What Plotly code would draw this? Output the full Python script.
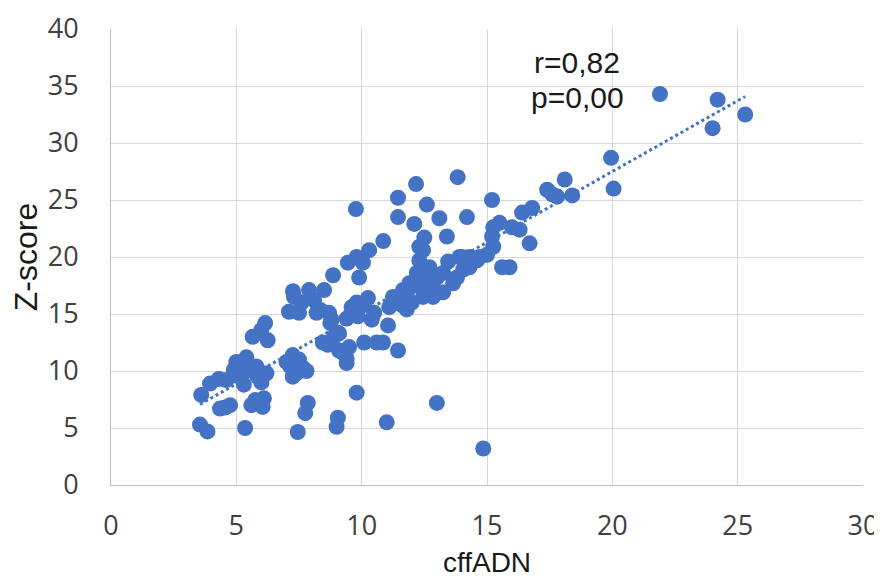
import numpy as np
import plotly.graph_objects as go

# cffADN (x) and Z-score (y) values
cffadn = [
    3.6, 3.95, 4.3, 4.55, 4.35, 4.75, 3.55, 3.85, 5.35, 4.6, 4.9, 5.0, 5.4, 5.8, 5.5, 6.2, 5.85, 5.2, 6.0,
    5.75, 5.6, 6.05, 6.1, 5.65, 6.15, 6.25, 6.0, 4.95, 5.3,
    7.26, 7.1, 7.3, 7.9, 8.5, 7.6, 8.1, 8.35, 7.5, 8.2, 8.7, 8.75, 8.8, 7.25, 7.15, 7.65, 7.25, 7.0, 7.5,
    7.8, 7.4, 8.45, 8.9, 9.0, 9.1, 9.5, 9.4, 8.65, 9.25, 9.4, 9.1,
    7.45, 7.85, 7.75, 9.05, 9.0, 9.8, 11.0, 13.0, 14.85,
    9.6, 10.25, 9.8, 9.6, 10.5, 9.85, 9.4, 10.1, 10.4, 9.45, 10.05, 9.8, 10.3, 10.86, 8.86, 9.9, 10.1, 10.6,
    10.85, 11.45, 9.77,
    11.05, 11.1, 11.25, 11.65, 11.8, 11.8, 11.9, 12.2, 12.3, 12.45, 12.3, 12.5, 12.7, 13.0, 12.6, 12.8, 12.45,
    12.85, 13.25, 13.65, 13.25, 13.45, 13.4, 14.0, 13.8, 14.3, 14.05, 14.7, 14.3, 13.9, 14.6, 12.0, 12.2, 12.6,
    11.6,
    11.45, 12.17, 13.83, 12.6, 13.1, 14.2, 11.45, 12.1,
    15.2, 15.5, 15.25, 16.0, 16.4, 16.8, 16.3, 16.7, 15.2, 15.25, 15.9, 15.6, 17.4, 17.6, 18.1, 18.4, 17.8, 15.0,
    19.95, 20.05, 21.9, 24.2, 24.0, 25.3,
]
zscore = [
    7.9, 8.9, 9.3, 6.8, 6.7, 7.0, 5.3, 4.7, 5.0, 9.2, 10.1, 10.8, 11.2, 10.4, 10.2, 9.8, 9.5, 9.6, 9.0,
    7.45, 7.0, 6.85, 7.6, 13.0, 14.2, 12.7, 13.6, 9.6, 8.8,
    17.0, 15.2, 16.5, 17.1, 17.1, 16.0, 16.2, 15.35, 15.1, 15.1, 15.1, 14.2, 14.5, 11.4, 10.4, 10.3, 9.5, 10.8, 11.0,
    10.0, 9.8, 12.5, 13.0, 13.4, 11.8, 12.1, 11.1, 12.3, 11.6, 10.7, 13.3,
    4.65, 7.2, 6.3, 5.9, 5.1, 8.1, 5.5, 7.2, 3.2,
    15.6, 16.4, 16.0, 15.1, 15.1, 14.8, 14.6, 15.8, 14.5, 19.5, 19.5, 20.0, 20.6, 21.4, 18.4, 18.2, 12.5, 12.5,
    12.5, 11.8, 24.2,
    14.0, 15.6, 16.5, 17.1, 16.8, 15.4, 17.7, 18.6, 19.7, 20.6, 20.9, 21.7, 19.1, 18.2, 18.0, 17.4, 16.5,
    16.5, 16.9, 17.7, 18.6, 19.6, 21.8, 20.0, 18.2, 19.1, 18.9, 20.0, 20.0, 20.0, 19.7, 16.0, 17.5, 17.0,
    15.8,
    25.2, 26.4, 27.0, 24.6, 23.4, 23.5, 23.5, 22.9,
    25.0, 23.0, 22.6, 22.6, 23.9, 24.3, 22.4, 21.2, 21.8, 20.9, 19.1, 19.1, 25.9, 25.5, 26.8, 25.4, 25.3, 20.2,
    28.7, 26.0, 34.3, 33.8, 31.3, 32.5,
]
x_ticks = [0, 5, 10, 15, 20, 25, 30]
y_ticks = [0, 5, 10, 15, 20, 25, 30, 35, 40]
stats_text = ["r=0,82", "p=0,00"]

blue = "#4472C4"
xa = np.array(cffadn)
ya = np.array(zscore)
slope, intercept = np.polyfit(xa, ya, 1)
tx = np.array([xa.min(), xa.max()])
ty = slope * tx + intercept

fig = go.Figure()
fig.add_trace(go.Scatter(
    x=cffadn, y=zscore, mode="markers",
    marker=dict(color=blue, size=16, line=dict(width=0)),
    showlegend=False, hoverinfo="skip",
))
fig.add_trace(go.Scatter(
    x=tx, y=ty, mode="lines",
    line=dict(color=blue, width=3, dash="dot"),
    showlegend=False, hoverinfo="skip",
))

fig.add_annotation(x=18.6, y=37.1, text=stats_text[0], showarrow=False,
                   font=dict(family="Liberation Sans, Arial", size=30, color="#1a1a1a"))
fig.add_annotation(x=18.6, y=33.95, text=stats_text[1], showarrow=False,
                   font=dict(family="Liberation Sans, Arial", size=30, color="#1a1a1a"))

fig.update_layout(
    width=874, height=570,
    margin=dict(l=103, r=19, t=21, b=93, autoexpand=False),
    paper_bgcolor="white", plot_bgcolor="white",
    xaxis=dict(
        range=[0, 30], tickvals=x_ticks, ticktext=[str(v) for v in x_ticks],
        showgrid=True, gridcolor="#d9d9d9", gridwidth=1,
        zeroline=False, showline=True, linecolor="#bfbfbf", linewidth=1,
        ticks="outside", ticklen=17, tickcolor="rgba(0,0,0,0)", automargin=False,
        tickfont=dict(family="Open Sans", size=27, color="#404040"),
        title=dict(text="cffADN", font=dict(family="Liberation Sans, Arial", size=28, color="#1a1a1a"),
                   standoff=18),
    ),
    yaxis=dict(
        range=[0, 40], tickvals=y_ticks, ticktext=[str(v) for v in y_ticks],
        showgrid=True, gridcolor="#d9d9d9", gridwidth=1,
        zeroline=False, showline=True, linecolor="#bfbfbf", linewidth=1,
        ticks="outside", ticklen=26, tickcolor="rgba(0,0,0,0)", automargin=False,
        tickfont=dict(family="Open Sans", size=27, color="#404040"),
        title=dict(text="Z-score", font=dict(family="Liberation Sans, Arial", size=32, color="#1a1a1a"),
                   standoff=6),
    ),
)

fig.write_html("out.html")
